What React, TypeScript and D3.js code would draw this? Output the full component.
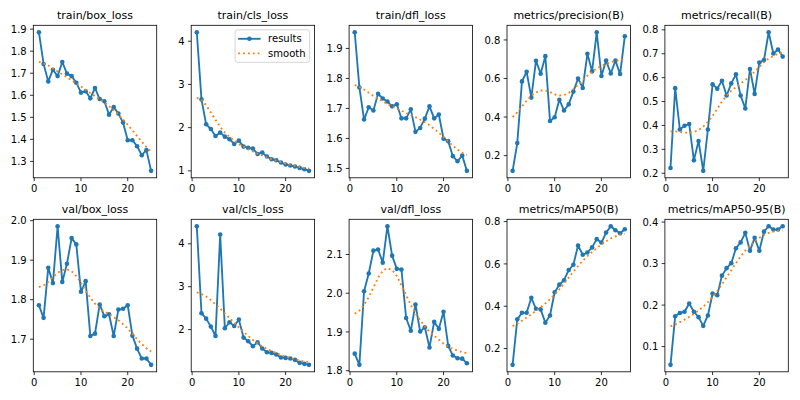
import React from 'react';
import * as d3 from 'd3';

const epochs = [1, 2, 3, 4, 5, 6, 7, 8, 9, 10, 11, 12, 13, 14, 15, 16, 17, 18, 19, 20, 21, 22, 23, 24, 25];

const titles = [
  'train/box_loss', 'train/cls_loss', 'train/dfl_loss', 'metrics/precision(B)', 'metrics/recall(B)',
  'val/box_loss', 'val/cls_loss', 'val/dfl_loss', 'metrics/mAP50(B)', 'metrics/mAP50-95(B)',
];

const trainBox = [1.886, 1.742, 1.663, 1.716, 1.687, 1.751, 1.698, 1.687, 1.657, 1.612, 1.618, 1.586, 1.633, 1.583, 1.573, 1.512, 1.546, 1.517, 1.476, 1.396, 1.396, 1.369, 1.328, 1.351, 1.257];
const trainBoxSmooth = [1.752, 1.745, 1.735, 1.722, 1.708, 1.695, 1.682, 1.668, 1.654, 1.640, 1.625, 1.610, 1.596, 1.582, 1.567, 1.551, 1.533, 1.512, 1.490, 1.466, 1.441, 1.415, 1.390, 1.365, 1.345];

const trainCls = [4.208, 2.654, 2.077, 1.969, 1.808, 1.885, 1.792, 1.731, 1.623, 1.700, 1.562, 1.531, 1.515, 1.392, 1.423, 1.331, 1.269, 1.246, 1.192, 1.146, 1.123, 1.100, 1.069, 1.038, 1.000];
const trainClsSmooth = [2.69, 2.64, 2.52, 2.35, 2.18, 2.02, 1.885, 1.785, 1.70, 1.62, 1.56, 1.50, 1.45, 1.40, 1.355, 1.31, 1.27, 1.235, 1.20, 1.17, 1.14, 1.115, 1.09, 1.07, 1.055];

const trainDfl = [1.954, 1.770, 1.663, 1.704, 1.693, 1.749, 1.733, 1.723, 1.707, 1.714, 1.667, 1.667, 1.697, 1.622, 1.635, 1.666, 1.707, 1.667, 1.680, 1.599, 1.591, 1.541, 1.524, 1.543, 1.492];
const trainDflSmooth = [1.778, 1.772, 1.763, 1.752, 1.742, 1.733, 1.724, 1.715, 1.707, 1.699, 1.692, 1.685, 1.678, 1.671, 1.663, 1.654, 1.644, 1.632, 1.619, 1.605, 1.590, 1.576, 1.563, 1.552, 1.545];

const precision = [0.121, 0.265, 0.585, 0.635, 0.501, 0.692, 0.625, 0.716, 0.380, 0.399, 0.490, 0.434, 0.466, 0.532, 0.600, 0.551, 0.728, 0.637, 0.840, 0.613, 0.693, 0.626, 0.693, 0.623, 0.819];
const precisionSmooth = [0.400, 0.425, 0.455, 0.485, 0.510, 0.528, 0.538, 0.538, 0.530, 0.518, 0.512, 0.514, 0.525, 0.545, 0.567, 0.590, 0.615, 0.635, 0.652, 0.665, 0.675, 0.684, 0.691, 0.697, 0.700];

const recall = [0.222, 0.556, 0.383, 0.399, 0.406, 0.254, 0.335, 0.210, 0.383, 0.572, 0.554, 0.587, 0.525, 0.576, 0.614, 0.525, 0.471, 0.636, 0.532, 0.663, 0.674, 0.790, 0.701, 0.718, 0.688];
const recallSmooth = [0.375, 0.375, 0.373, 0.370, 0.370, 0.373, 0.380, 0.395, 0.415, 0.440, 0.470, 0.500, 0.525, 0.545, 0.560, 0.575, 0.590, 0.605, 0.625, 0.645, 0.665, 0.680, 0.690, 0.700, 0.705];

const valBox = [1.786, 1.754, 1.881, 1.842, 1.986, 1.845, 1.891, 1.956, 1.940, 1.820, 1.847, 1.708, 1.714, 1.788, 1.758, 1.763, 1.708, 1.775, 1.777, 1.786, 1.709, 1.676, 1.651, 1.651, 1.635];
const valBoxSmooth = [1.832, 1.836, 1.845, 1.857, 1.868, 1.875, 1.877, 1.872, 1.860, 1.843, 1.822, 1.805, 1.790, 1.778, 1.770, 1.763, 1.756, 1.748, 1.738, 1.727, 1.714, 1.700, 1.688, 1.677, 1.669];

const valCls = [4.41, 2.38, 2.256, 2.07, 1.853, 4.217, 2.031, 2.171, 2.085, 2.233, 1.814, 1.729, 1.612, 1.705, 1.558, 1.473, 1.457, 1.419, 1.349, 1.341, 1.326, 1.295, 1.225, 1.202, 1.178];
const valClsSmooth = [2.87, 2.83, 2.77, 2.69, 2.59, 2.49, 2.38, 2.27, 2.16, 2.05, 1.95, 1.85, 1.76, 1.68, 1.61, 1.55, 1.50, 1.45, 1.41, 1.37, 1.34, 1.31, 1.28, 1.26, 1.245];

const valDfl = [1.844, 1.815, 2.005, 2.051, 2.110, 2.113, 2.079, 2.173, 2.097, 2.063, 2.061, 1.936, 1.903, 1.971, 1.901, 1.912, 1.860, 1.926, 1.908, 1.952, 1.864, 1.839, 1.832, 1.831, 1.819];
const valDflSmooth = [1.947, 1.955, 1.970, 1.990, 2.015, 2.040, 2.058, 2.065, 2.060, 2.045, 2.020, 1.995, 1.970, 1.948, 1.930, 1.915, 1.900, 1.890, 1.880, 1.870, 1.862, 1.856, 1.852, 1.848, 1.845];

const map50 = [0.123, 0.338, 0.369, 0.369, 0.440, 0.388, 0.385, 0.322, 0.356, 0.466, 0.502, 0.523, 0.571, 0.596, 0.687, 0.643, 0.654, 0.678, 0.717, 0.701, 0.748, 0.778, 0.759, 0.745, 0.764];
const map50Smooth = [0.306, 0.318, 0.332, 0.347, 0.362, 0.378, 0.395, 0.413, 0.433, 0.455, 0.480, 0.507, 0.535, 0.563, 0.590, 0.615, 0.637, 0.657, 0.675, 0.692, 0.707, 0.720, 0.730, 0.738, 0.742];

const map5095 = [0.056, 0.173, 0.181, 0.184, 0.204, 0.184, 0.171, 0.150, 0.175, 0.228, 0.224, 0.271, 0.289, 0.301, 0.337, 0.351, 0.374, 0.331, 0.362, 0.331, 0.377, 0.390, 0.382, 0.382, 0.390];
const map5095Smooth = [0.149, 0.153, 0.159, 0.165, 0.172, 0.179, 0.187, 0.196, 0.207, 0.220, 0.234, 0.250, 0.267, 0.284, 0.301, 0.317, 0.331, 0.343, 0.354, 0.362, 0.369, 0.374, 0.377, 0.379, 0.380];

const xTicks = [0, 10, 20];
const yTickLabels = [
  ['1.3', '1.4', '1.5', '1.6', '1.7', '1.8', '1.9'],
  ['1', '2', '3', '4'],
  ['1.5', '1.6', '1.7', '1.8', '1.9'],
  ['0.2', '0.4', '0.6', '0.8'],
  ['0.2', '0.3', '0.4', '0.5', '0.6', '0.7', '0.8'],
  ['1.7', '1.8', '1.9', '2.0'],
  ['2', '3', '4'],
  ['1.8', '1.9', '2.0', '2.1'],
  ['0.2', '0.4', '0.6', '0.8'],
  ['0.1', '0.2', '0.3', '0.4'],
];

const resultsSeries = [trainBox, trainCls, trainDfl, precision, recall, valBox, valCls, valDfl, map50, map5095];
const smoothSeries = [trainBoxSmooth, trainClsSmooth, trainDflSmooth, precisionSmooth, recallSmooth, valBoxSmooth, valClsSmooth, valDflSmooth, map50Smooth, map5095Smooth];
const legendLabels = ['results', 'smooth'];

const BLUE = '#1f77b4';
const ORANGE = '#ff7f0e';
const FONT = 'DejaVu Sans, sans-serif';

const LEFT0 = 33.3;
const STEP = 157.9;
const AW = 123.4;
const TOPS = [25.3, 219.3];
const AH = 152.5;
const TICK = 3.3;
const PAD = 3.3;
const TICK_FS = 10;
const TITLE_FS = 11;

function Panel({ idx }: { idx: number }) {
  const col = idx % 5;
  const row = Math.floor(idx / 5);
  const left = LEFT0 + col * STEP;
  const top = TOPS[row];
  const right = left + AW;
  const bottom = top + AH;
  const vals = resultsSeries[idx];
  const sm = smoothSeries[idx];
  const all = vals.concat(sm);
  const [mn, mx] = d3.extent(all) as [number, number];
  const m = (mx - mn) * 0.05;
  const x = d3.scaleLinear().domain([-0.2, 26.2]).range([left, right]);
  const y = d3.scaleLinear().domain([mn - m, mx + m]).range([bottom, top]);
  const line = d3.line<number>().x((_, i) => x(epochs[i])).y((d) => y(d));
  const labels = yTickLabels[idx];
  return (
    <g>
      <path d={line(vals) || ''} fill="none" stroke={BLUE} strokeWidth={1.85} strokeLinejoin="round" />
      {vals.map((v, i) => (
        <circle key={i} cx={x(epochs[i])} cy={y(v)} r={2.3} fill={BLUE} />
      ))}
      <path d={line(sm) || ''} fill="none" stroke={ORANGE} strokeWidth={1.85} strokeDasharray="1.85 3.05" />
      <rect x={left} y={top} width={AW} height={AH} fill="none" stroke="#000" strokeWidth={0.8} />
      {xTicks.map((t) => (
        <g key={'x' + t}>
          <line x1={x(t)} x2={x(t)} y1={bottom} y2={bottom + TICK} stroke="#000" strokeWidth={0.8} />
          <text x={x(t)} y={bottom + TICK + PAD} dy="0.76em" textAnchor="middle" fontSize={TICK_FS} fontFamily={FONT} fill="#000">
            {t}
          </text>
        </g>
      ))}
      {labels.map((lab) => {
        const v = +lab;
        return (
          <g key={'y' + lab}>
            <line x1={left - TICK} x2={left} y1={y(v)} y2={y(v)} stroke="#000" strokeWidth={0.8} />
            <text x={left - TICK - PAD} y={y(v)} dy="0.36em" textAnchor="end" fontSize={TICK_FS} fontFamily={FONT} fill="#000">
              {lab}
            </text>
          </g>
        );
      })}
      <text x={(left + right) / 2} y={top - 6} textAnchor="middle" fontSize={TITLE_FS} fontFamily={FONT} fill="#000">
        {titles[idx]}
      </text>
      {idx === 1 && (
        <g>
          <rect x={right - 5 - 74.5} y={top + 4.5} width={74.5} height={32.5} rx={2.5} fill="#fff" fillOpacity={0.8} stroke="#ccc" strokeWidth={0.8} />
          <line x1={right - 5 - 71.5} x2={right - 5 - 49} y1={top + 13.5} y2={top + 13.5} stroke={BLUE} strokeWidth={1.85} />
          <circle cx={right - 5 - 60.2} cy={top + 13.5} r={2.3} fill={BLUE} />
          <line x1={right - 5 - 71.5} x2={right - 5 - 49} y1={top + 28} y2={top + 28} stroke={ORANGE} strokeWidth={1.85} strokeDasharray="1.85 3.05" />
          <text x={right - 5 - 41.5} y={top + 17} fontSize={TICK_FS} fontFamily={FONT} fill="#000">{legendLabels[0]}</text>
          <text x={right - 5 - 41.5} y={top + 31.5} fontSize={TICK_FS} fontFamily={FONT} fill="#000">{legendLabels[1]}</text>
        </g>
      )}
    </g>
  );
}

export default function App() {
  return (
    <svg width={800} height={400} style={{ position: 'absolute', left: 0, top: 0, background: '#fff' }}>
      <rect x={0} y={0} width={800} height={400} fill="#fff" />
      {titles.map((_, i) => (
        <Panel key={i} idx={i} />
      ))}
    </svg>
  );
}
